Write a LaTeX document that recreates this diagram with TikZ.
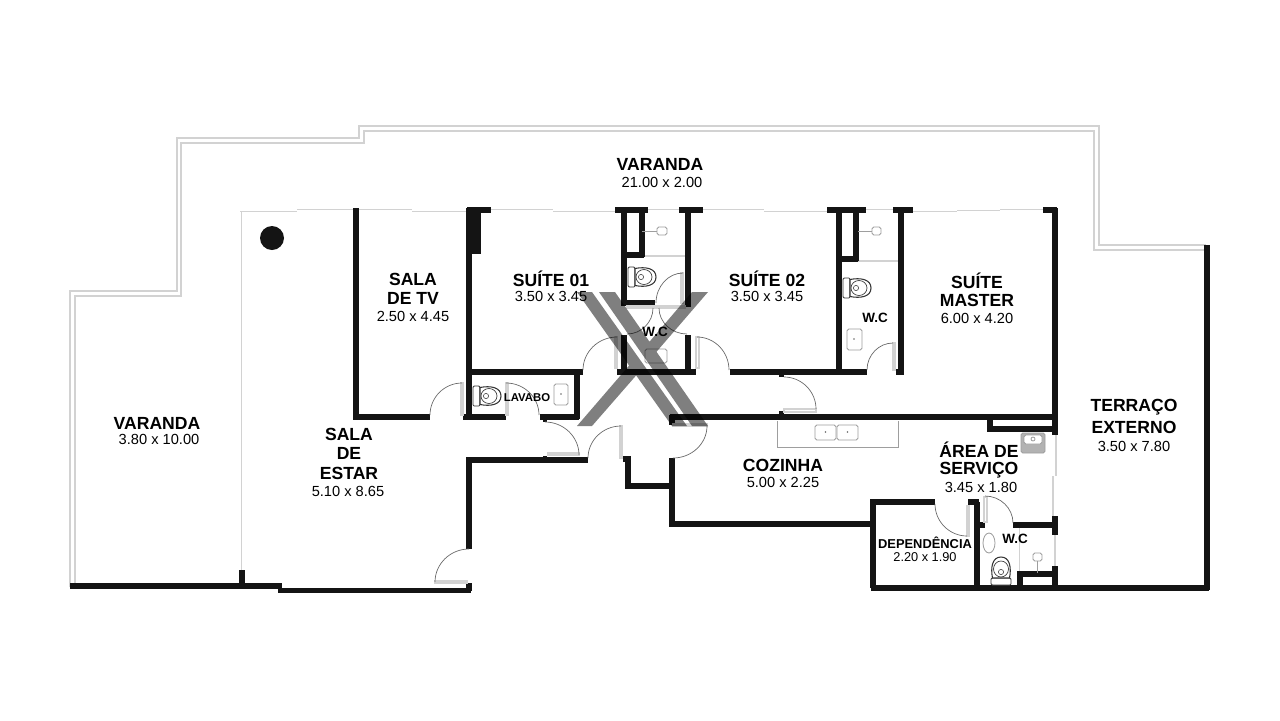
\documentclass[tikz,border=0pt]{standalone}
\usepackage{fontspec}
\setmainfont{Liberation Sans}
\definecolor{wallblack}{HTML}{141414}
\definecolor{glassgray}{HTML}{D2D2D2}
\definecolor{linegray}{HTML}{6A6A6A}
\tikzset{
    wall/.style={wallblack, line width=4.3pt},
    railing/.style={glassgray, line width=1.2pt},
    glass/.style={glassgray, line width=1.6pt},
    leaf/.style={draw=glassgray, fill=white, line width=0.9pt},
    swing/.style={linegray, line width=0.6pt},
    fixture/.style={draw=glassgray!75!black, fill=white, line width=0.7pt, rounded corners=1.5pt},
    roomname/.style={inner sep=0pt, font=\fontsize{15}{15}\selectfont\bfseries},
    roomsize/.style={inner sep=0pt, font=\fontsize{12.5}{12.5}\selectfont},
    smallname/.style={inner sep=0pt, font=\fontsize{11.5}{11.5}\selectfont\bfseries},
    toilet/.pic={
        \draw[fill=white, line width=0.7pt, draw=black!80, rounded corners=1pt] (-7,-10) rectangle (0,10);
        \draw[fill=white, line width=0.9pt, draw=black!80] (0,-8.5) .. controls (10,-10.5) and (21,-9) .. (21,0) .. controls (21,9) and (10,10.5) .. (0,8.5) -- cycle;
        \draw[line width=0.6pt, draw=black!75] (9,0) ellipse (8 and 7.5);
        \draw[line width=0.5pt, draw=black!75] (6,0) circle (2.6);
    }
}
\begin{document}
\begin{tikzpicture}[x=0.03cm, y=-0.03cm]
        \useasboundingbox (0,0) rectangle (1280,720);
        \draw[railing] (70,587) -- (70,291) -- (177,291) -- (177,138) -- (359,138) -- (359,126) -- (1099,126) -- (1099,245) -- (1206,245);
        \draw[railing] (75,587) -- (75,296) -- (181,296) -- (181,143) -- (364,143) -- (364,131) -- (1094,131) -- (1094,250) -- (1205,250);
        \draw[glass] (241.5,211) -- (241.5,570);
        \draw[glass] (240,211.5) -- (297,211.5);
        \draw[glass] (297,209.5) -- (354,209.5);
        \draw[glass] (359,209.5) -- (412,209.5);
        \draw[glass] (412,211.5) -- (467,211.5);
        \draw[glass] (491,209.5) -- (553,209.5);
        \draw[glass] (553,211.5) -- (615,211.5);
        \draw[glass] (648,209.5) -- (679,209.5);
        \draw[glass] (703,209.5) -- (764,209.5);
        \draw[glass] (764,211.5) -- (827,211.5);
        \draw[glass] (866,209.5) -- (893,209.5);
        \draw[glass] (913,211.5) -- (957,211.5);
        \draw[glass] (957,210.5) -- (1000,210.5);
        \draw[glass] (1000,209.5) -- (1043,209.5);
        \draw[glass] (1056,435) -- (1056,476);
        \draw[glass] (1053,476) -- (1053,516);
        \draw[glass] (1055,535) -- (1055,566);
        \draw[glass] (644,256) -- (686,256);
        \draw[glass] (858,261) -- (899,261);
        \draw[glassgray, line width=0.8pt] (1019,527) -- (1019,573);
        \fill[wallblack] (272,238) circle (12);
        \fill[wallblack] (467,208) rectangle (481,254);
        \draw[wall] (70,586) -- (282,586);
        \draw[wall] (278,590.5) -- (471,590.5);
        \draw[wall] (242,570) -- (242,586);
        \draw[wall] (469,549) -- (469,460) -- (588,460);
        \draw[wall] (469,583) -- (469,591);
        \draw[wall] (356,208) -- (356,417) -- (430,417);
        \draw[wall] (463,417) -- (506,417);
        \draw[wall] (540,417) -- (579,417);
        \draw[wall] (469,208) -- (469,417);
        \draw[wall] (469,372) -- (583,372);
        \draw[wall] (577,372) -- (577,419);
        \draw[wall] (467,210) -- (491,210);
        \draw[wall] (615,210) -- (648,210);
        \draw[wall] (679,210) -- (703,210);
        \draw[wall] (624,208) -- (624,306);
        \draw[wall] (642,208) -- (642,257);
        \draw[wall] (622,255) -- (644,255);
        \draw[wall] (624,303) -- (655,303);
        \draw[wall] (688,208) -- (688,306);
        \draw[wall] (624,335) -- (624,372);
        \draw[wall] (688,335) -- (688,372);
        \draw[wall] (617,372) -- (696,372);
        \draw[wall] (730,372) -- (867,372);
        \draw[wall] (896,372) -- (903.5,372);
        \draw[wall] (839,208) -- (839,372);
        \draw[wall] (856,208) -- (856,261);
        \draw[wall] (839,259) -- (858,259);
        \draw[wall] (901,208) -- (901,374);
        \draw[wall] (827,210) -- (866,210);
        \draw[wall] (893,210) -- (913,210);
        \draw[wall] (1043,210) -- (1057,210);
        \draw[wall] (1055,208) -- (1055,435);
        \draw[wall] (670,417) -- (1057,417);
        \draw[wall] (672,415) -- (672,425);
        \draw[wall] (672,458) -- (672,524) -- (873,524);
        \draw[wall] (623,459) -- (628,459) -- (628,486) -- (672,486);
        \draw[wall] (990,417) -- (990,429) -- (1055,429);
        \draw[wall] (873,588) -- (873,502) -- (935,502);
        \draw[wall] (968,502) -- (979,502);
        \draw[wall] (977,502) -- (977,588);
        \draw[wall] (871,588) -- (1209,588);
        \draw[wall] (1207,245) -- (1207,590);
        \draw[wall] (1055,516) -- (1055,535);
        \draw[wall] (1055,566) -- (1055,590);
        \draw[wall] (977,525) -- (985,525);
        \draw[wall] (1013,525) -- (1057,525);
        \draw[wall] (1020,590) -- (1020,574) -- (1055,574);
        \fill[wallblack] (685,303) rectangle (691,307);
        \fill[wallblack] (779,373) rectangle (784,377);
        \fill[wallblack] (779,411) rectangle (784,415);
        \fill[wallblack] (543,419) rectangle (547,422);
        \fill[wallblack] (543,456) rectangle (547,459);
        \foreach \xa/\ya/\xb/\yb in {461/383/463/415, 506/383/508/415, 548/453/579/455, 620/426/622/458, 673/424/707/426, 615/337/617/368, 696/337/699/368, 681/273/683/303, 627/306/685/308, 784/409/816/412, 893/343/895/370, 967/506/969/536, 984/497/987/522, 435/581/467/583}
            \draw[leaf] (\xa,\ya) rectangle (\xb,\yb);
        \foreach \xa/\ya/\xb/\yb in {430/415/462/383, 539/415/506/383, 579/455/545/422, 588/458/621/426, 707/426/673/458, 583/370/617/337, 729/370/697/337, 656/303/683/273, 653/308/627/334, 659/308/687/334, 816/409/784/377, 867/370/893/343, 935/504/967/536, 1013/523/985/496, 435/582/469/549}
            \draw[swing] (\xa,\ya) .. controls (\xa,{\ya+0.55*(\yb-\ya)}) and ({\xb+0.55*(\xa-\xb)},\yb) .. (\xb,\yb);
        \pic at (635,277) {toilet};
        \pic at (480,396) {toilet};
        \pic at (850,288) {toilet};
        \pic[rotate=90] at (1001,578) {toilet};
        \draw[fixture] (657,227) rectangle (667,235);
        \draw[fixture] (872,227) rectangle (881,235);
        \draw[fixture] (1033,553) rectangle (1042,561);
        \draw[glassgray!75!black, line width=0.6pt] (642,231) -- (657,231);
        \draw[glassgray!75!black, line width=0.6pt] (858,231) -- (872,231);
        \draw[glassgray!75!black, line width=0.6pt] (1037.5,561) -- (1037.5,573);
        \draw[fixture] (645,349) rectangle (667,363);
        \draw[fixture] (554,384) rectangle (568,405);
        \draw[fixture] (847,329) rectangle (862,350);
        \draw[glassgray!75!black, line width=0.7pt] (777,421) -- (777,447) -- (898,447) -- (898,421);
        \draw[fixture] (815,425) rectangle (836,440);
        \draw[fixture] (837,425) rectangle (858,440);
        \fill[linegray] (825.5,432) circle (0.8);
        \fill[linegray] (847.5,432) circle (0.8);
        \fill[linegray] (561,394) circle (0.8);
        \fill[linegray] (854,339) circle (0.8);
        \draw[fixture, fill=black!30] (1021,433) rectangle (1045,453);
        \draw[fixture] (1024,435) rectangle (1042,444);
        \draw[fixture] (1033,439) circle (2);
        \draw[fixture] (989,543) ellipse (6 and 10);
        \fill[black, opacity=0.5] (577,292) -- (592,292) -- (687,426) -- (672,426) -- cycle
            (599,292) -- (615,292) -- (708,426) -- (692,426) -- cycle
            (692,292) -- (708,292) -- (652,357) -- (645,347) -- cycle
            (633,361) -- (640,371) -- (592,426) -- (577,426) -- cycle;
        \node[roomname] (varandatop) at (660,164) {VARANDA};
        \node[roomsize] (varandatopsize) at (662,182) {21.00 x 2.00};
        \node[roomname] (varandaleft) at (157,423) {VARANDA};
        \node[roomsize] (varandaleftsize) at (159,439) {3.80 x 10.00};
        \node[roomname] (salatv) at (413,279) {SALA};
        \node[roomname] (salatvb) at (413,298) {DE TV};
        \node[roomsize] (salatvsize) at (413,316) {2.50 x 4.45};
        \node[roomname] (suite) at (551,279) {SUÍTE 01};
        \node[roomsize] (suitesize) at (551,296) {3.50 x 3.45};
        \node[roomname] (suiteb) at (767,279) {SUÍTE 02};
        \node[roomsize] (suitebsize) at (767,296) {3.50 x 3.45};
        \node[roomname] (master) at (977,281) {SUÍTE};
        \node[roomname] (masterb) at (977,300) {MASTER};
        \node[roomsize] (mastersize) at (977,318) {6.00 x 4.20};
        \node[smallname] (wcmaster) at (875,318) {W.C};
        \node[smallname] (wccentre) at (655,332) {W.C};
        \node[roomname] (estar) at (349,434) {SALA};
        \node[roomname] (estarb) at (349,453) {DE};
        \node[roomname] (estarc) at (349,473) {ESTAR};
        \node[roomsize] (estarsize) at (348,491) {5.10 x 8.65};
        \node[inner sep=0pt, font=\fontsize{9.7}{9.7}\selectfont\bfseries] (lavabo) at (527,398) {LAVABO};
        \node[roomname] (cozinha) at (783,465) {COZINHA};
        \node[roomsize] (cozinhasize) at (783,482) {5.00 x 2.25};
        \node[roomname] (servico) at (979,450) {ÁREA DE};
        \node[roomname] (servicob) at (979,470) {SERVIÇO};
        \node[roomsize] (servicosize) at (981,487) {3.45 x 1.80};
        \node[inner sep=0pt, font=\fontsize{11}{11}\selectfont\bfseries] (dependencia) at (925,543) {DEPENDÊNCIA};
        \node[inner sep=0pt, font=\fontsize{10.9}{10.9}\selectfont] (dependenciasize) at (925,557) {2.20 x 1.90};
        \node[smallname] (wcservico) at (1015,539) {W.C};
        \node[roomname] (terraco) at (1134,407) {TERRAÇO};
        \node[roomname] (terracob) at (1134,427) {EXTERNO};
        \node[roomsize] (terracosize) at (1134,446) {3.50 x 7.80};
    \end{tikzpicture}
\end{document}
